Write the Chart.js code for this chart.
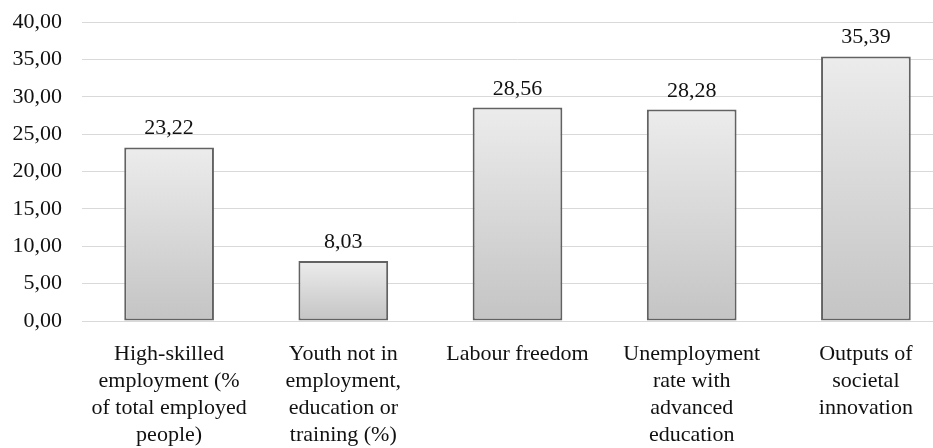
<!DOCTYPE html>
<html>
<head>
<meta charset="utf-8">
<script src="https://cdn.jsdelivr.net/npm/chart.js@4"></script>
<style>
  html, body { margin: 0; padding: 0; background: #fff; overflow: hidden; }
  #wrap { width: 953px; height: 448px; }
</style>
</head>
<body>
<div id="wrap"><canvas id="barChart" width="953" height="448"></canvas></div>
<script>
const categories = [
    ['High-skilled', 'employment (%', 'of total employed', 'people)'],
    ['Youth not in', 'employment,', 'education or', 'training (%)'],
    ['Labour freedom'],
    ['Unemployment', 'rate with', 'advanced', 'education'],
    ['Outputs of', 'societal', 'innovation']
];
const values = [23.22, 8.03, 28.56, 28.28, 35.39];
const yTicks = [0, 5, 10, 15, 20, 25, 30, 35, 40];

const fmt = v => v.toFixed(2).replace('.', ',');
const FONT = '"Liberation Serif", "Times New Roman", serif';

// draws the numbers above each bar
const valueLabels = {
    id: 'valueLabels',
    afterDatasetsDraw(chart) {
        const c = chart.ctx;
        const meta = chart.getDatasetMeta(0);
        c.save();
        c.font = '22px ' + FONT;
        c.fillStyle = '#111';
        c.textAlign = 'center';
        c.textBaseline = 'alphabetic';
        meta.data.forEach((bar, i) => {
            c.fillText(fmt(values[i]), bar.x, bar.y - 13);
        });
        c.restore();
    }
};

function barGradient(context) {
    const chart = context.chart;
    if (!chart.chartArea) return '#d8d8d8';
    const y = chart.scales.y;
    const top = y.getPixelForValue(context.raw);
    const bottom = y.getPixelForValue(0);
    const g = chart.ctx.createLinearGradient(0, top, 0, bottom);
    g.addColorStop(0, '#ececec');
    g.addColorStop(1, '#c4c4c4');
    return g;
}

const ctx = document.getElementById('barChart').getContext('2d');
new Chart(ctx, {
    type: 'bar',
    data: {
        labels: categories,
        datasets: [{
            data: values,
            backgroundColor: barGradient,
            borderColor: '#626262',
            borderWidth: 2,
            borderSkipped: false,
            categoryPercentage: 1,
            barPercentage: 0.515
        }]
    },
    options: {
        responsive: false,
        animation: false,
        layout: { padding: { top: 22, left: 0, right: 0, bottom: 0 } },
        plugins: {
            legend: { display: false },
            tooltip: { enabled: false }
        },
        scales: {
            y: {
                min: 0,
                max: 40,
                afterBuildTicks: axis => { axis.ticks = yTicks.map(v => ({ value: v })); },
                afterFit: axis => {
                    axis.width = 82;
                    axis.paddingTop = 0;
                    axis.paddingBottom = 0;
                },
                grid: { color: '#d9d9d9', lineWidth: 1, drawTicks: false },
                border: { display: false },
                ticks: {
                    padding: 20,
                    color: '#111',
                    font: { family: FONT, size: 22 },
                    callback: v => fmt(v)
                }
            },
            x: {
                afterFit: axis => { axis.height = 127; },
                grid: { display: false, drawTicks: false },
                border: { color: '#d9d9d9', width: 1 },
                ticks: {
                    padding: 20,
                    maxRotation: 0,
                    autoSkip: false,
                    color: '#111',
                    font: { family: FONT, size: 22, lineHeight: 1.23 }
                }
            }
        }
    },
    plugins: [valueLabels]
});
</script>
</body>
</html>
